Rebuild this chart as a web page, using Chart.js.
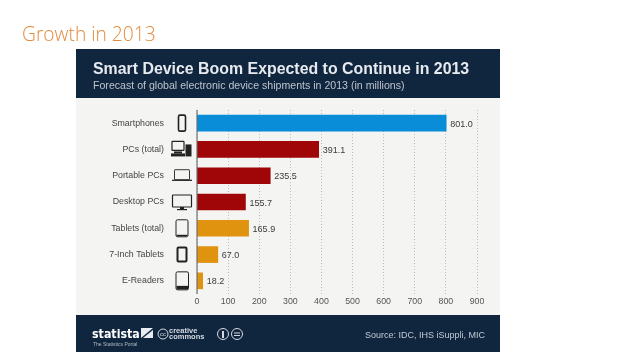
<!DOCTYPE html>
<html>
<head>
<meta charset="utf-8">
<title>Growth in 2013</title>
<style>
  html, body { margin: 0; padding: 0; background: #fff; }
  #wrap { width: 638px; height: 359px; }
</style>
<script src="https://cdn.jsdelivr.net/npm/chart.js@4"></script>
</head>
<body>
<div id="wrap"><canvas id="chart" width="638" height="359"></canvas></div>
<script>
// Values
const categories = ["Smartphones", "PCs (total)", "Portable PCs", "Desktop PCs", "Tablets (total)", "7-Inch Tablets", "E-Readers"];
const shipments = [801.0, 391.1, 235.5, 155.7, 165.9, 67.0, 18.2];
const barColors = ["#0a8dd9", "#a00508", "#a00508", "#a00508", "#e0930f", "#e0930f", "#e0930f"];
const icons = ["phone", "pc", "laptop", "desktop", "tablet", "mini", "reader"];

const NAVY = "#10263f";
const ICON_X = 182;

function text(ctx, str, x, y, font, color, align) {
  ctx.font = font;
  ctx.fillStyle = color;
  ctx.textAlign = align || "left";
  ctx.textBaseline = "alphabetic";
  ctx.fillText(str, x, y);
}

function box(ctx, x, y, w, h, r, lw) {
  ctx.lineWidth = lw;
  ctx.beginPath();
  ctx.roundRect(x, y, w, h, r);
  ctx.stroke();
}

// Little device pictures next to the category labels
function drawIcon(ctx, name, x, y) {
  ctx.strokeStyle = "#222";
  ctx.fillStyle = "#222";
  if (name === "phone") {
    box(ctx, x - 3.5, y - 8, 7, 16, 1.5, 1.6);
  } else if (name === "pc") {
    box(ctx, x - 10, y - 8, 12, 9, 0.5, 1.2);
    ctx.fillRect(x - 8, y + 2, 8, 2);
    ctx.fillRect(x - 11, y + 4, 14, 3);
    ctx.fillRect(x + 3.5, y - 5, 6, 12);
  } else if (name === "laptop") {
    box(ctx, x - 7.5, y - 6, 15, 10, 0.5, 0.9);
    ctx.fillRect(x - 10, y + 4, 20, 1.2);
  } else if (name === "desktop") {
    box(ctx, x - 9.5, y - 7, 19, 12, 0.5, 1.2);
    ctx.fillRect(x - 2, y + 5, 4, 2.5);
    ctx.fillRect(x - 5, y + 7, 10, 1.2);
  } else if (name === "tablet") {
    box(ctx, x - 6, y - 8.5, 12, 17, 1.5, 1);
    ctx.fillRect(x - 5.5, y + 6.5, 11, 1.5);
  } else if (name === "mini") {
    box(ctx, x - 4.5, y - 7, 9, 14, 1, 2);
  } else if (name === "reader") {
    box(ctx, x - 6, y - 9, 12.5, 18, 1.5, 1);
    ctx.fillRect(x - 5.5, y + 5, 11.5, 3.5);
  }
}

// Dark header, light panel and footer behind the chart
const panelPlugin = {
  id: "panel",
  beforeDraw(chart) {
    const ctx = chart.ctx;
    ctx.save();
    text(ctx, "Growth in 2013", 22, 41, "300 19.2px 'Open Sans'", "#e08b3e");
    ctx.fillStyle = "#f4f4f3";
    ctx.fillRect(76, 49, 424, 303);
    ctx.fillStyle = NAVY;
    ctx.fillRect(76, 49, 424, 49);
    ctx.fillRect(76, 315, 424, 37);
    text(ctx, "Smart Device Boom Expected to Continue in 2013", 93, 74, "bold 15.9px 'Liberation Sans'", "#e6eaee");
    text(ctx, "Forecast of global electronic device shipments in 2013 (in millions)", 93, 89, "10.6px 'Liberation Sans'", "#bcc4cd");

    text(ctx, "statista", 92, 338, "bold condensed 12.3px 'DejaVu Sans'", "#ffffff");
    ctx.fillStyle = "#e8ecf0";
    ctx.beginPath();
    ctx.moveTo(141, 328); ctx.lineTo(153, 328); ctx.lineTo(141, 338);
    ctx.closePath();
    ctx.fill();
    ctx.beginPath();
    ctx.moveTo(153, 330); ctx.lineTo(153, 338); ctx.lineTo(143, 338);
    ctx.closePath();
    ctx.fill();
    text(ctx, "The Statistics Portal", 93, 346, "5px 'Liberation Sans'", "#aeb8c3");
    ctx.strokeStyle = "#d5dae0";
    ctx.lineWidth = 1;
    [[163, 5], [223, 5.5], [237, 5.5]].forEach(c => {
      ctx.beginPath();
      ctx.arc(c[0], 334, c[1], 0, Math.PI * 2);
      ctx.stroke();
    });
    text(ctx, "cc", 163, 336, "6px 'Liberation Sans'", "#d5dae0", "center");
    text(ctx, "creative", 169, 333, "bold 7.5px 'Liberation Sans'", "#d5dae0");
    text(ctx, "commons", 169, 339, "bold 7.5px 'Liberation Sans'", "#d5dae0");
    // attribution and no-derivatives marks inside the two circles
    ctx.fillStyle = "#d5dae0";
    ctx.fillRect(222, 331, 2, 7);
    ctx.fillRect(234, 332.5, 6, 1);
    ctx.fillRect(234, 335, 6, 1);
    text(ctx, "Source: IDC, IHS iSuppli, MIC", 485, 338, "9px 'Liberation Sans'", "#c2cad3", "right");
    ctx.restore();
  },
  afterDatasetsDraw(chart) {
    const ctx = chart.ctx;
    const y = chart.scales.y;
    const x = chart.scales.x;
    ctx.save();
    // value labels at the bar ends, icons beside the category labels
    shipments.forEach((v, i) => {
      text(ctx, v.toFixed(1), x.getPixelForValue(v) + 4, y.getPixelForValue(i) + 3.5, "9px 'Liberation Sans'", "#3a3a3a");
      drawIcon(ctx, icons[i], ICON_X, y.getPixelForValue(i));
    });
    // vertical axis line
    ctx.strokeStyle = "#55595e";
    ctx.lineWidth = 1;
    ctx.beginPath();
    ctx.moveTo(x.getPixelForValue(0), y.top);
    ctx.lineTo(x.getPixelForValue(0), y.bottom);
    ctx.stroke();
    ctx.restore();
  }
};

new Chart(document.getElementById("chart"), {
  type: "bar",
  plugins: [panelPlugin],
  data: {
    labels: categories,
    datasets: [{
      data: shipments,
      backgroundColor: barColors,
      barThickness: 16
    }]
  },
  options: {
    indexAxis: "y",
    responsive: false,
    animation: false,
    layout: { padding: { top: 110, right: 161, bottom: 0, left: 0 } },
    plugins: { legend: { display: false }, tooltip: { enabled: false } },
    scales: {
      x: {
        min: 0,
        max: 900,
        afterFit(scale) { scale.height = 65; },
        ticks: {
          stepSize: 100,
          padding: 2,
          maxRotation: 0,
          color: "#555",
          font: { family: "'Liberation Sans'", size: 8.8 }
        },
        border: { display: false, dash: [1, 2] },
        grid: {
          color: "#bdbdbd",
          lineWidth: 1,
          drawTicks: false
        }
      },
      y: {
        afterFit(scale) { scale.width = 197; },
        ticks: {
          padding: 25,
          color: "#444",
          font: { family: "'Liberation Sans'", size: 8.8 }
        },
        border: { display: false },
        grid: { display: false }
      }
    }
  }
});
</script>
</body>
</html>
